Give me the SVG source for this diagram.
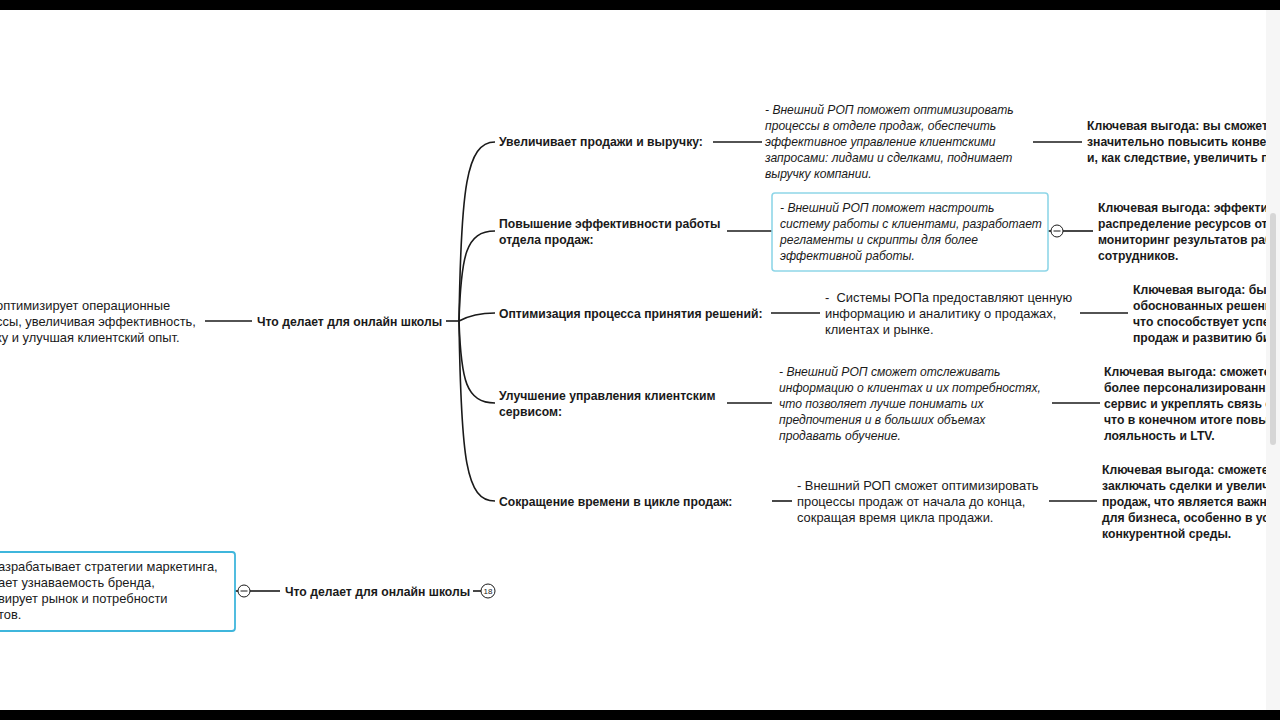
<svg xmlns="http://www.w3.org/2000/svg" width="1280" height="720" viewBox="0 0 1280 720">
<style>
.t{font-family:"Liberation Sans",Arial,sans-serif;font-size:12.9px;fill:#1a1a1a}
.b{font-weight:bold;font-size:12.2px}
.i{font-style:italic;font-size:12.1px}
.c{fill:none;stroke:#1a1a1a;stroke-width:1.6}
.col{fill:#fff;stroke:#1a1a1a;stroke-width:1}
</style>
<rect width="1280" height="720" fill="#fff"/>
<g id="connectors">
<line class="c" x1="205" y1="321" x2="252" y2="321"/>
<line class="c" x1="446" y1="321" x2="459" y2="321"/>
<path class="c" d="M459,321 C461,190 466,142 495,142"/>
<path class="c" d="M459,321 C461,255 466,231 495,231"/>
<path class="c" d="M459,321 C470,315 480,313 495,313"/>
<path class="c" d="M459,321 C461,380 466,403 495,403"/>
<path class="c" d="M459,321 C461,460 466,501 495,501"/>
<line class="c" x1="713" y1="142" x2="762" y2="142"/>
<line class="c" x1="727" y1="231" x2="772" y2="231"/>
<line class="c" x1="771" y1="313" x2="820" y2="313"/>
<line class="c" x1="727" y1="403" x2="772" y2="403"/>
<line class="c" x1="772" y1="501" x2="792" y2="501"/>
<line class="c" x1="1033" y1="142" x2="1082" y2="142"/>
<line class="c" x1="1048" y1="231" x2="1051" y2="231"/>
<line class="c" x1="1063" y1="231" x2="1093" y2="231"/>
<line class="c" x1="1080" y1="313" x2="1128" y2="313"/>
<line class="c" x1="1052" y1="403" x2="1100" y2="403"/>
<line class="c" x1="1049" y1="501" x2="1097" y2="501"/>
<line class="c" x1="235" y1="591" x2="238" y2="591"/>
<line class="c" x1="250" y1="591" x2="280" y2="591"/>
<line class="c" x1="473" y1="591" x2="481" y2="591"/>
</g>
<g id="left-node">
<text class="t" x="-4" y="310">оптимизирует операционные</text>
<text class="t" x="-4" y="326">ссы, увеличивая эффективность,</text>
<text class="t" x="-4" y="342">ку и улучшая клиентский опыт.</text>
</g>
<g id="root1"><text class="t b" x="257" y="326">Что делает для онлайн школы</text></g>
<g id="b1"><text class="t b" x="499" y="146">Увеличивает продажи и выручку:</text></g>
<g id="b2"><text class="t b" x="499" y="228">Повышение эффективности работы</text><text class="t b" x="499" y="244">отдела продаж:</text></g>
<g id="b3"><text class="t b" x="499" y="318">Оптимизация процесса принятия решений:</text></g>
<g id="b4"><text class="t b" x="499" y="400">Улучшение управления клиентским</text><text class="t b" x="499" y="416">сервисом:</text></g>
<g id="b5"><text class="t b" x="499" y="506">Сокращение времени в цикле продаж:</text></g>
<g id="d1">
<text class="t i" x="765" y="114">- Внешний РОП поможет оптимизировать</text>
<text class="t i" x="765" y="130">процессы в отделе продаж, обеспечить</text>
<text class="t i" x="765" y="146">эффективное управление клиентскими</text>
<text class="t i" x="765" y="162">запросами: лидами и сделками, поднимает</text>
<text class="t i" x="765" y="178">выручку компании.</text>
</g>
<g id="d2">
<rect x="772" y="193" width="276" height="78" rx="3" fill="#fff" stroke="#8fd6e8" stroke-width="1.6"/>
<text class="t i" x="780" y="212">- Внешний РОП поможет настроить</text>
<text class="t i" x="780" y="228">систему работы с клиентами, разработает</text>
<text class="t i" x="780" y="244">регламенты и скрипты для более</text>
<text class="t i" x="780" y="260">эффективной работы.</text>
<circle class="col" cx="1057" cy="231" r="6"/>
<line x1="1053.5" y1="231" x2="1060.5" y2="231" stroke="#1a1a1a" stroke-width="1"/>
</g>
<g id="d3">
<text class="t" x="825" y="302" xml:space="preserve">-  Системы РОПа предоставляют ценную</text>
<text class="t" x="825" y="318">информацию и аналитику о продажах,</text>
<text class="t" x="825" y="334">клиентах и рынке.</text>
</g>
<g id="d4">
<text class="t i" x="779" y="376">- Внешний РОП сможет отслеживать</text>
<text class="t i" x="779" y="392">информацию о клиентах и их потребностях,</text>
<text class="t i" x="779" y="408">что позволяет лучше понимать их</text>
<text class="t i" x="779" y="424">предпочтения и в больших объемах</text>
<text class="t i" x="779" y="440">продавать обучение.</text>
</g>
<g id="d5">
<text class="t" x="797" y="490">- Внешний РОП сможет оптимизировать</text>
<text class="t" x="797" y="506">процессы продаж от начала до конца,</text>
<text class="t" x="797" y="522">сокращая время цикла продажи.</text>
</g>
<g id="k1">
<text class="t b" x="1087" y="130">Ключевая выгода: вы сможете</text>
<text class="t b" x="1087" y="146">значительно повысить конверсию</text>
<text class="t b" x="1087" y="162">и, как следствие, увеличить прибыль</text>
</g>
<g id="k2">
<text class="t b" x="1098" y="212">Ключевая выгода: эффективное</text>
<text class="t b" x="1098" y="228">распределение ресурсов отдела</text>
<text class="t b" x="1098" y="244">мониторинг результатов работы</text>
<text class="t b" x="1098" y="260">сотрудников.</text>
</g>
<g id="k3">
<text class="t b" x="1133" y="294">Ключевая выгода: быстрое</text>
<text class="t b" x="1133" y="310">обоснованных решений,</text>
<text class="t b" x="1133" y="326">что способствует успеху</text>
<text class="t b" x="1133" y="342">продаж и развитию бизнеса</text>
</g>
<g id="k4">
<text class="t b" x="1104" y="376">Ключевая выгода: сможете</text>
<text class="t b" x="1104" y="392">более персонализированный</text>
<text class="t b" x="1104" y="408">сервис и укреплять связь с</text>
<text class="t b" x="1104" y="424">что в конечном итоге повысит</text>
<text class="t b" x="1104" y="440">лояльность и LTV.</text>
</g>
<g id="k5">
<text class="t b" x="1102" y="474">Ключевая выгода: сможете</text>
<text class="t b" x="1102" y="490">заключать сделки и увеличить</text>
<text class="t b" x="1102" y="506">продаж, что является важным</text>
<text class="t b" x="1102" y="522">для бизнеса, особенно в условиях</text>
<text class="t b" x="1102" y="538">конкурентной среды.</text>
</g>
<g id="bottom-node">
<rect x="-10" y="552" width="245" height="79" rx="3" fill="#fff" stroke="#3fb6dc" stroke-width="1.8"/>
<text class="t" x="-2" y="571">азрабатывает стратегии маркетинга,</text>
<text class="t" x="-2" y="587">ает узнаваемость бренда,</text>
<text class="t" x="-2" y="603">вирует рынок и потребности</text>
<text class="t" x="-2" y="619">тов.</text>
<circle class="col" cx="244" cy="591" r="6"/>
<line x1="240.5" y1="591" x2="247.5" y2="591" stroke="#1a1a1a" stroke-width="1"/>
</g>
<g id="root2">
<text class="t b" x="285" y="596">Что делает для онлайн школы</text>
<circle class="col" cx="488" cy="591" r="7"/>
<text x="488" y="594" text-anchor="middle" style="font-family:'Liberation Sans',Arial,sans-serif;font-size:8px;fill:#1a1a1a">18</text>
</g>
<rect x="1266" y="0" width="14" height="720" fill="#f6f6f6"/>
<rect x="1270" y="213" width="6" height="232" rx="3" fill="#d6d6d6"/>
<rect x="0" y="0" width="1280" height="10" fill="#000"/>
<rect x="0" y="710" width="1280" height="10" fill="#000"/>
</svg>
